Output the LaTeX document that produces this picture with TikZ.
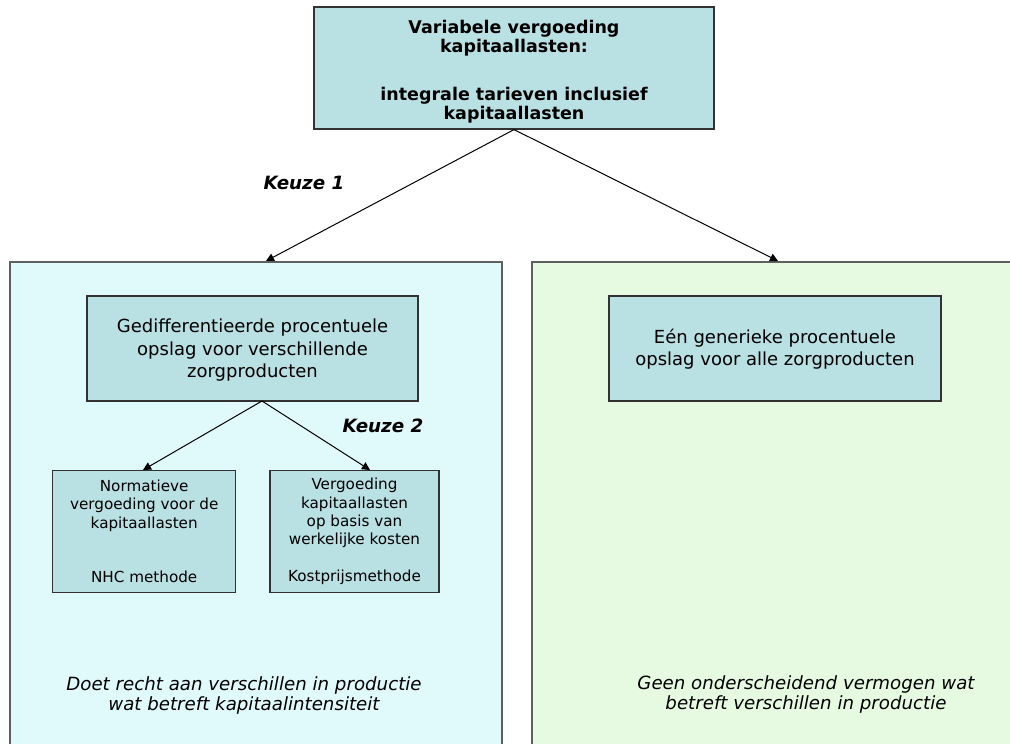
\documentclass[tikz,border=0pt]{standalone}
\usepackage{fontspec}
\setmainfont{DejaVu Sans}
\usetikzlibrary{arrows.meta,calc}
\definecolor{boxfill}{RGB}{185,224,227}
\definecolor{boxline}{RGB}{50,50,50}
\definecolor{panelA}{RGB}{224,249,250}
\definecolor{panelB}{RGB}{230,250,226}
\definecolor{panelline}{RGB}{95,95,95}
\tikzset{
  panel/.style={draw=panelline, line width=1.6pt, inner sep=0pt, anchor=north west},
  bluebox/.style={draw=boxline, line width=1.2pt, fill=boxfill, align=center, inner sep=0pt},
  maintext/.style={font=\fontsize{18}{22.5}\selectfont},
  toptext/.style={font=\bfseries\fontsize{17.5}{19}\selectfont},
  smalltext/.style={font=\fontsize{15.2}{18.3}\selectfont},
  notetext/.style={font=\itshape\fontsize{18.2}{19.5}\selectfont, align=center},
  choice/.style={font=\bfseries\itshape\fontsize{18.3}{19}\selectfont},
  conn/.style={draw=black, line width=1pt, -{Triangle[length=8pt,width=8pt]}}
}
\begin{document}
\begin{tikzpicture}[x=1pt,y=-1pt]
\useasboundingbox (0,0) rectangle (1010,744);
\fill[white] (0,0) rectangle (1010,744);
\begin{scope}
\clip (0,0) rectangle (1010,744);
\node[panel, fill=panelA, minimum width=492pt, minimum height=500pt] (leftpanel) at (9,261) {};
\node[panel, fill=panelB, minimum width=500pt, minimum height=500pt] (rightpanel) at (531,261) {};
\end{scope}

\node[bluebox, toptext, minimum width=400pt, minimum height=122pt] (top) at (514,68)
  {\rule{0pt}{21pt}Variabele vergoeding\\kapitaallasten:\\[29pt]integrale tarieven inclusief\\kapitaallasten};

\node[bluebox, maintext, minimum width=331pt, minimum height=105pt] (gedif) at (252.5,348.5)
  {\rule{0pt}{17pt}Gedifferentieerde procentuele\\opslag voor verschillende\\zorgproducten};

\node[bluebox, maintext, minimum width=332pt, minimum height=105pt] (een) at (775,348.5)
  {\rule{0pt}{16pt}Eén generieke procentuele\\opslag voor alle zorgproducten};

\node[bluebox, smalltext, minimum width=183pt, minimum height=122.5pt] (nhc) at (144.2,531.5)
  {Normatieve\\vergoeding voor de\\kapitaallasten\\[36.6pt]NHC methode};

\node[bluebox, smalltext, minimum width=169pt, minimum height=122.5pt] (kost) at (354.5,531.5)
  {Vergoeding\\kapitaallasten\\op basis van\\werkelijke kosten\\[18.3pt]Kostprijsmethode};

\node[choice] (keuze1) at (304,183) {Keuze 1};
\node[choice] (keuze2) at (383,426) {Keuze 2};

\node[notetext] (noteL) at (244,695.5) {Doet recht aan verschillen in productie\\wat betreft kapitaalintensiteit};
\node[notetext] (noteR) at (806,694.5) {Geen onderscheidend vermogen wat\\betreft verschillen in productie};

\coordinate (tipL) at (266,261);
\coordinate (tipR) at (778,261);
\coordinate (apex2) at (262,401);
\coordinate (tipNHC) at (143,470);
\coordinate (tipKost) at (370,470);

\draw[conn] (top.south) -- (tipL);
\draw[conn] (top.south) -- (tipR);
\draw[conn] (apex2) -- (tipNHC);
\draw[conn] (apex2) -- (tipKost);
\end{tikzpicture}
\end{document}
